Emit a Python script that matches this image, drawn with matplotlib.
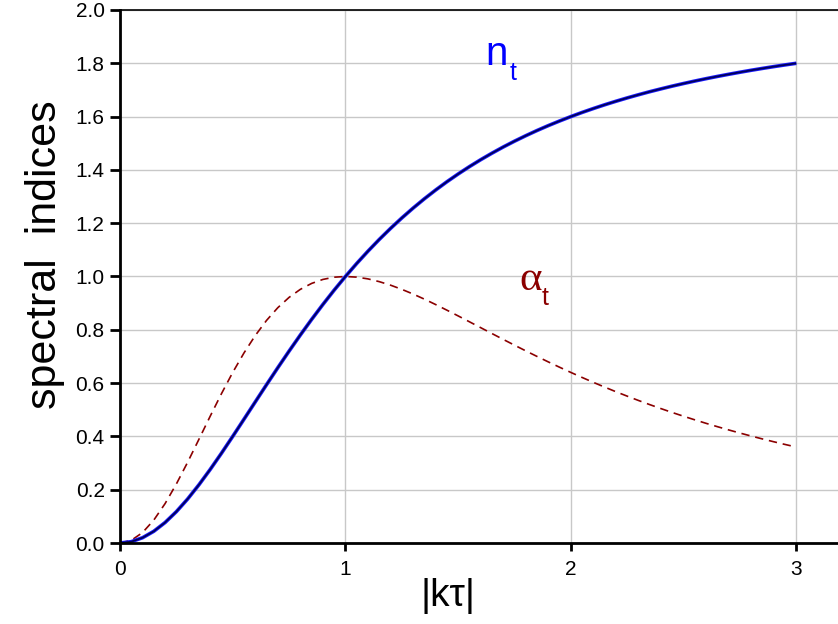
import numpy as np
import matplotlib
matplotlib.use("Agg")
import matplotlib.pyplot as plt

plt.rcParams['font.family'] = ['Liberation Sans', 'DejaVu Sans']

# |k tau| sampled every 0.05
k_tau = [0.00, 0.05, 0.10, 0.15, 0.20, 0.25, 0.30, 0.35, 0.40, 0.45,
         0.50, 0.55, 0.60, 0.65, 0.70, 0.75, 0.80, 0.85, 0.90, 0.95,
         1.00, 1.05, 1.10, 1.15, 1.20, 1.25, 1.30, 1.35, 1.40, 1.45,
         1.50, 1.55, 1.60, 1.65, 1.70, 1.75, 1.80, 1.85, 1.90, 1.95,
         2.00, 2.05, 2.10, 2.15, 2.20, 2.25, 2.30, 2.35, 2.40, 2.45,
         2.50, 2.55, 2.60, 2.65, 2.70, 2.75, 2.80, 2.85, 2.90, 2.95, 3.00]

# n_t (solid blue)
n_t = [0.0000, 0.0050, 0.0198, 0.0440, 0.0769, 0.1176, 0.1651, 0.2183, 0.2759, 0.3368,
       0.4000, 0.4645, 0.5294, 0.5940, 0.6577, 0.7200, 0.7805, 0.8389, 0.8950, 0.9488,
       1.0000, 1.0488, 1.0950, 1.1389, 1.1803, 1.2195, 1.2565, 1.2914, 1.3243, 1.3554,
       1.3846, 1.4122, 1.4382, 1.4627, 1.4859, 1.5077, 1.5283, 1.5478, 1.5662, 1.5835,
       1.6000, 1.6156, 1.6303, 1.6443, 1.6575, 1.6701, 1.6820, 1.6934, 1.7041, 1.7144,
       1.7241, 1.7334, 1.7423, 1.7507, 1.7587, 1.7664, 1.7738, 1.7808, 1.7875, 1.7939, 1.8000]

# alpha_t (dashed dark red)
alpha_t = [0.0000, 0.0100, 0.0392, 0.0861, 0.1479, 0.2215, 0.3030, 0.3889, 0.4756, 0.5602,
           0.6400, 0.7132, 0.7785, 0.8352, 0.8829, 0.9216, 0.9518, 0.9740, 0.9890, 0.9974,
           1.0000, 0.9976, 0.9910, 0.9807, 0.9675, 0.9518, 0.9342, 0.9151, 0.8948, 0.8737,
           0.8521, 0.8301, 0.8080, 0.7859, 0.7639, 0.7423, 0.7209, 0.7000, 0.6795, 0.6595,
           0.6400, 0.6211, 0.6027, 0.5849, 0.5676, 0.5510, 0.5348, 0.5192, 0.5042, 0.4896,
           0.4756, 0.4621, 0.4490, 0.4365, 0.4243, 0.4126, 0.4013, 0.3904, 0.3799, 0.3698, 0.3600]

xticks = [0, 1, 2, 3]
yticks = [0.0, 0.2, 0.4, 0.6, 0.8, 1.0, 1.2, 1.4, 1.6, 1.8, 2.0]

fig = plt.figure(figsize=(8.38, 6.24), dpi=100)
ax = fig.add_axes([0.1432, 0.1298, 0.8568, 0.8542])

ax.grid(True, color='#c8c8c8', lw=1.0)
ax.set_axisbelow(True)

ax.plot(k_tau, alpha_t, color='#8b0000', lw=1.2, dashes=(5, 3.5))
ax.plot(k_tau, n_t, color='#1a1aff', lw=2.6, solid_capstyle='butt')
ax.plot(k_tau, n_t, color='#00005a', lw=1.3, solid_capstyle='butt')

ax.set_xlim(0, 3.185)
ax.set_ylim(0, 2.0)
ax.set_xticks(xticks)
ax.set_yticks(yticks)
ax.set_yticklabels(['%.1f' % v for v in yticks])

for side in ['left', 'bottom']:
    ax.spines[side].set_linewidth(2.0)
ax.spines['top'].set_linewidth(1.2)
ax.spines['right'].set_visible(False)

ax.tick_params(axis='x', direction='out', length=6, width=2, pad=6, labelsize=15)
ax.tick_params(axis='y', direction='out', length=7, width=2, pad=4, labelsize=15)

ax.set_ylabel('spectral  indices', fontsize=31)
ax.yaxis.set_label_coords(-0.077, 0.54)
ax.set_xlabel('|k\u03c4|', fontsize=28)
ax.xaxis.set_label_coords(0.457, -0.066)

ax.text(1.62, 1.795, 'n', color='#0000ff', fontsize=29, ha='left', va='baseline')
ax.text(1.73, 1.737, 't', color='#0000ff', fontsize=18, ha='left', va='baseline')
ax.text(1.77, 0.95, '\u03b1', color='#8b0000', fontsize=31, ha='left', va='baseline',
        family=['Liberation Serif', 'DejaVu Serif'])
ax.text(1.87, 0.893, 't', color='#8b0000', fontsize=18, ha='left', va='baseline')

fig.savefig('out.png', dpi=100)
